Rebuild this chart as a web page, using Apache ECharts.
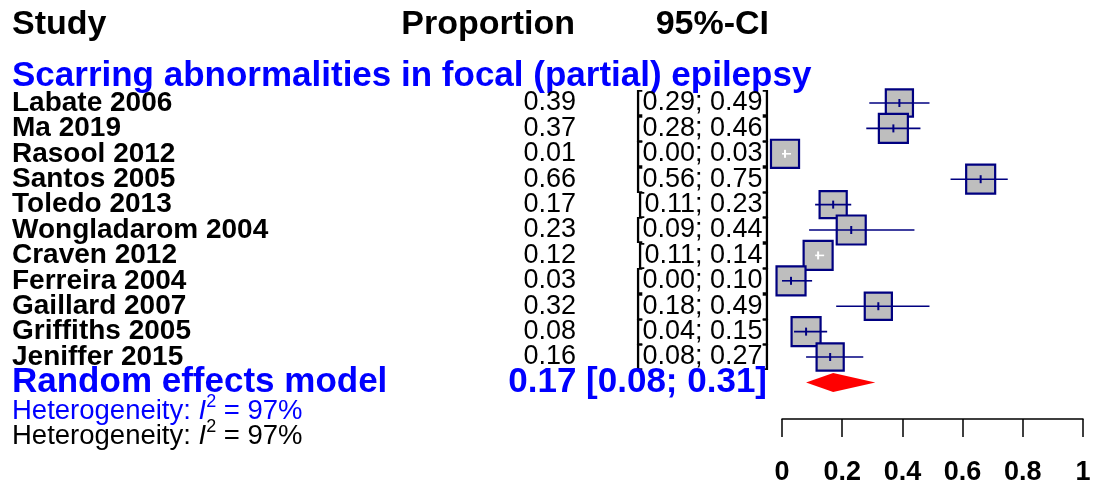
<!DOCTYPE html>
<html>
<head>
<meta charset="utf-8">
<script src="https://cdn.jsdelivr.net/npm/echarts@6/dist/echarts.min.js"></script>
<style>
  html, body { margin: 0; padding: 0; background: #fff; }
  #forest { width: 1096px; height: 489px; }
</style>
</head>
<body>
<div id="forest"></div>
<script>
// studies and their estimates
const studies = ['Labate 2006', 'Ma 2019', 'Rasool 2012', 'Santos 2005', 'Toledo 2013', 'Wongladarom 2004',
  'Craven 2012', 'Ferreira 2004', 'Gaillard 2007', 'Griffiths 2005', 'Jeniffer 2015']
const proportion = [0.39, 0.37, 0.01, 0.66, 0.17, 0.23, 0.12, 0.03, 0.32, 0.08, 0.16]
const ciLower = [0.29, 0.28, 0.00, 0.56, 0.11, 0.09, 0.11, 0.00, 0.18, 0.04, 0.08]
const ciUpper = [0.49, 0.46, 0.03, 0.75, 0.23, 0.44, 0.14, 0.10, 0.49, 0.15, 0.27]
// random effects weights (%), they set the square sizes
const weights = [8.7, 9.3, 9.0, 9.3, 8.7, 9.3, 9.3, 9.3, 8.7, 9.3, 8.7]
// pooled estimate: [estimate, lower, upper]
const pooled = [0.17, 0.08, 0.31]
const i2 = 97
const xTicks = [0, 0.2, 0.4, 0.6, 0.8, 1]

const FONT = '"Liberation Sans", Arial, sans-serif'
const BLUE = '#0000ff'
const NAVY = '#000080'
const fmt = v => v.toFixed(2)

const chart = echarts.init(document.getElementById('forest'))

// table text (name, proportion, CI) placed on each study row
const tableData = studies.map((s, i) => [proportion[i], i])
const forestData = studies.map((s, i) => [proportion[i], i, ciLower[i], ciUpper[i], weights[i]])
const maxWeight = Math.max(...weights)

function renderTable(params, api) {
  const i = api.value(1)
  const y = api.coord([0, i])[1]
  return {
    type: 'group',
    children: [
      { type: 'text', style: { x: 12, y: y, text: studies[i], font: 'bold 28px ' + FONT, fill: '#000', align: 'left', verticalAlign: 'middle' } },
      { type: 'text', style: { x: 576, y: y, text: fmt(proportion[i]), font: '27px ' + FONT, fill: '#000', align: 'right', verticalAlign: 'middle' } },
      { type: 'text', style: { x: 770, y: y, text: '[' + fmt(ciLower[i]) + '; ' + fmt(ciUpper[i]) + ']', font: '27px ' + FONT, fill: '#000', align: 'right', verticalAlign: 'middle' } }
    ]
  }
}

function renderStudy(params, api) {
  const c = api.coord([api.value(0), api.value(1)])
  const lo = api.coord([api.value(2), api.value(1)])[0]
  const hi = api.coord([api.value(3), api.value(1)])[0]
  const size = 29 * api.value(4) / maxWeight
  const half = size / 2
  // CI hidden inside the box is drawn in white, like R meta does
  const inside = lo >= c[0] - half && hi <= c[0] + half
  const lineColor = inside ? '#fff' : NAVY
  return {
    type: 'group',
    children: [
      { type: 'rect', shape: { x: c[0] - half, y: c[1] - half, width: size, height: size },
        style: { fill: '#bebebe', stroke: NAVY, lineWidth: 2.2 } },
      { type: 'line', shape: { x1: lo, y1: c[1], x2: hi, y2: c[1] }, style: { stroke: lineColor, lineWidth: 1.6 } },
      { type: 'line', shape: { x1: c[0], y1: c[1] - 4, x2: c[0], y2: c[1] + 4 }, style: { stroke: lineColor, lineWidth: 2 } }
    ]
  }
}

function renderPooled(params, api) {
  const c = api.coord([api.value(0), api.value(1)])
  const lo = api.coord([api.value(2), api.value(1)])[0]
  const hi = api.coord([api.value(3), api.value(1)])[0]
  return {
    type: 'group',
    children: [
      { type: 'polygon', shape: { points: [[lo, c[1]], [c[0], c[1] - 9.5], [hi, c[1]], [c[0], c[1] + 9.5]] },
        style: { fill: '#ff0000' } },
      { type: 'text', style: { x: 12, y: c[1], text: 'Random effects model', font: 'bold 35px ' + FONT, fill: BLUE, align: 'left', verticalAlign: 'middle' } },
      { type: 'text', style: { x: 767, y: c[1], text: fmt(pooled[0]) + ' [' + fmt(pooled[1]) + '; ' + fmt(pooled[2]) + ']',
        font: 'bold 35px ' + FONT, fill: BLUE, align: 'right', verticalAlign: 'middle' } }
    ]
  }
}

function hetText(y, color) {
  const base = { fontFamily: FONT, fontSize: 27.5, fill: color, lineHeight: 36 }
  return {
    type: 'text', left: 12, top: y - 18,
    style: {
      text: '{a|Heterogeneity: }{i|I}{s|2}{a| = ' + i2 + '%}',
      rich: {
        a: base,
        i: Object.assign({}, base, { fontStyle: 'italic' }),
        s: { fontFamily: FONT, fontSize: 18, fill: color, verticalAlign: 'top', lineHeight: 18 }
      }
    }
  }
}

const option = {
  animation: false,
  backgroundColor: '#fff',
  grid: { left: 782, right: 13, top: 77.6, bottom: 70 },
  xAxis: {
    type: 'value', min: 0, max: 1, interval: 0.2, position: 'bottom',
    splitLine: { show: false },
    axisLine: { show: true, onZero: false, lineStyle: { color: '#000', width: 1.5 } },
    axisTick: { show: true, inside: false, length: 18, lineStyle: { color: '#000', width: 1.5 } },
    axisLabel: {
      margin: 40, color: '#000', fontFamily: FONT, fontWeight: 'bold', fontSize: 27,
      formatter: v => (xTicks.includes(+v.toFixed(1)) ? String(+v.toFixed(1)) : '')
    }
  },
  yAxis: { type: 'value', inverse: true, min: -1, max: 12.44, show: false },
  graphic: [
    { type: 'text', left: 12, top: 25 - 17, style: { text: 'Study', font: 'bold 34px ' + FONT, fill: '#000' } },
    { type: 'text', right: 1096 - 575, top: 25 - 17, style: { text: 'Proportion', font: 'bold 34px ' + FONT, fill: '#000' } },
    { type: 'text', right: 1096 - 769, top: 25 - 17, style: { text: '95%-CI', font: 'bold 34px ' + FONT, fill: '#000' } },
    { type: 'text', left: 12, top: 76 - 17.5, style: { text: 'Scarring abnormalities in focal (partial) epilepsy', font: 'bold 35px ' + FONT, fill: BLUE } },
    hetText(411, BLUE),
    hetText(436, '#000')
  ],
  series: [
    { type: 'custom', name: 'table', renderItem: renderTable, data: tableData, encode: { x: 0, y: 1 }, clip: false, silent: true },
    { type: 'custom', name: 'studies', renderItem: renderStudy, data: forestData, encode: { x: 0, y: 1 }, clip: false, silent: true },
    { type: 'custom', name: 'pooled', renderItem: renderPooled, data: [[pooled[0], studies.length, pooled[1], pooled[2]]],
      encode: { x: 0, y: 1 }, clip: false, silent: true }
  ]
}

chart.setOption(option)
</script>
</body>
</html>
